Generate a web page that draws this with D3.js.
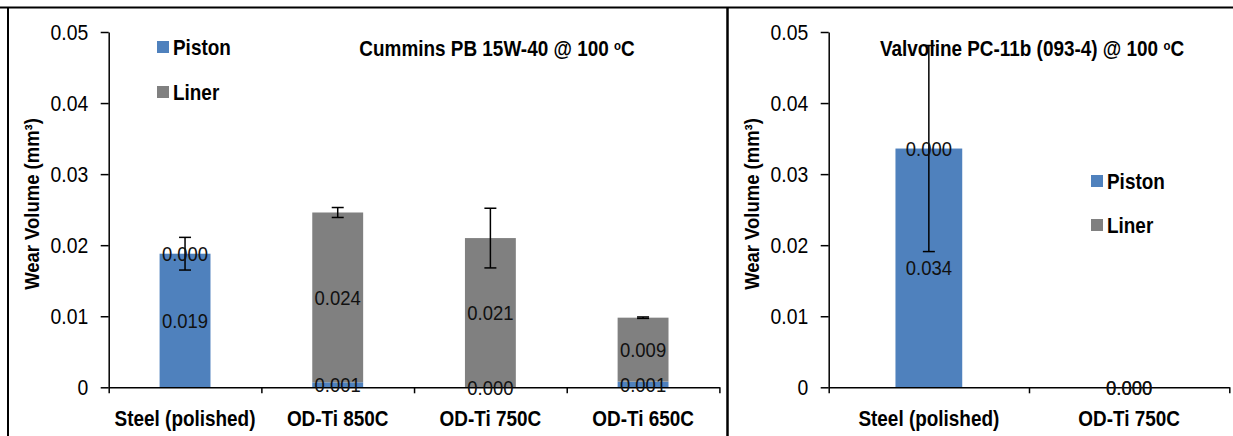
<!DOCTYPE html>
<meta charset="utf-8">
<script src="https://d3js.org/d3.v7.min.js"></script>
<style>
  body { margin: 0; background: #fff; }
  text { font-family: "Liberation Sans", Arial, sans-serif; fill: #000; }
</style>
<div id="my_dataviz"></div>
<script>
  // data
  var leftCats = ["Steel (polished)", "OD-Ti 850C", "OD-Ti 750C", "OD-Ti 650C"];
  var leftPiston = [0.0188, 0.0007, 0.0000, 0.0008];
  var leftLiner = [0.0000, 0.0239, 0.0210, 0.0090];
  var leftErr = [0.0023, 0.0007, 0.0042, 0.0001];

  var rightCats = ["Steel (polished)", "OD-Ti 750C"];
  var rightPiston = [0.0336, 0.0000];
  var rightLiner = [0.0000, 0.0000];
  var rightErr = [0.0145, 0];

  var yTicks = [0, 0.01, 0.02, 0.03, 0.04, 0.05];
  var seriesNames = ["Piston", "Liner"];
  var colors = ["#4f81bd", "#808080"];

  var W = 1233, H = 436;
  var sx = 0.88; // text looks a little squeezed sideways

  var svg = d3.select("#my_dataviz")
    .append("svg")
    .attr("width", W)
    .attr("height", H);

  // frame lines
  svg.append("line").attr("x1", 0).attr("x2", W).attr("y1", 7.5).attr("y2", 7.5)
    .attr("stroke", "#000").attr("stroke-width", 2);
  svg.append("line").attr("x1", 8).attr("x2", 8).attr("y1", 7).attr("y2", H)
    .attr("stroke", "#000").attr("stroke-width", 2);
  svg.append("line").attr("x1", 727.5).attr("x2", 727.5).attr("y1", 7).attr("y2", H)
    .attr("stroke", "#000").attr("stroke-width", 2.5);

  function squashText(g, x, y, txt) {
    return g.append("text")
      .attr("transform", "translate(" + x + "," + y + ") scale(" + sx + ",1)")
      .text(txt);
  }

  var drawPanel = function(cfg) {
    var y = d3.scaleLinear().domain([0, 0.05]).range([387.3, 32]);
    var n = cfg.cats.length;
    var x = d3.scaleBand().domain(cfg.cats).range([cfg.x0, cfg.x1])
      .paddingInner(2 / 3).paddingOuter(1 / 3);
    var xi = d3.scaleLinear().domain([0, n]).range([cfg.x0, cfg.x1]);
    var g = svg.append("g");

    // y axis
    var ya = g.append("g")
      .attr("transform", "translate(" + cfg.x0 + ",0)")
      .call(d3.axisLeft(y).tickValues(yTicks).tickSize(8).tickSizeOuter(0)
        .tickFormat(function(d) { return d === 0 ? "0" : d3.format(".2f")(d); }));
    ya.select(".domain").attr("stroke-width", 1.5);
    ya.selectAll(".tick line").attr("stroke-width", 1.5);
    ya.selectAll("text")
      .attr("x", -20.5 / sx)
      .attr("transform", "scale(" + sx + ",1)")
      .style("font-size", "22px")
      .style("font-family", "Liberation Sans, Arial, sans-serif");

    // stacked bars
    var rows = cfg.cats.map(function(c, i) {
      return { cat: c, piston: cfg.piston[i], liner: cfg.liner[i], err: cfg.err[i] };
    });
    var stack = d3.stack().keys(["piston", "liner"])(rows);
    stack.forEach(function(layer, k) {
      g.selectAll(null)
        .data(layer)
        .enter()
        .append("rect")
        .attr("x", function(d) { return x(d.data.cat); })
        .attr("y", function(d) { return y(d[1]); })
        .attr("width", x.bandwidth())
        .attr("height", function(d) { return y(d[0]) - y(d[1]); })
        .attr("fill", colors[k]);
    });

    // x axis: boundary ticks + labels
    var xa = g.append("g")
      .attr("transform", "translate(0," + y(0) + ")")
      .call(d3.axisBottom(xi).tickValues(d3.range(n + 1)).tickSize(6).tickSizeOuter(0).tickFormat(""));
    xa.select(".domain").attr("stroke-width", 1.5);
    xa.selectAll(".tick line").attr("stroke-width", 1.5);
    var xl = g.append("g")
      .attr("transform", "translate(0," + y(0) + ")")
      .call(d3.axisBottom(d3.scaleBand().domain(cfg.cats).range([cfg.x0, cfg.x1])).tickSize(0));
    xl.select(".domain").remove();
    xl.selectAll("text")
      .attr("x", 0)
      .attr("y", 23)
      .attr("transform", "scale(" + sx + ",1)")
      .style("font-size", "21.5px")
      .style("font-weight", "bold")
      .style("font-family", "Liberation Sans, Arial, sans-serif");

    // error bars at the top of each stack
    rows.forEach(function(r) {
      if (!r.err) return;
      var cx = x(r.cat) + x.bandwidth() / 2;
      var top = r.piston + r.liner;
      g.append("line").attr("x1", cx).attr("x2", cx)
        .attr("y1", y(top + r.err)).attr("y2", y(top - r.err))
        .attr("stroke", "#000").attr("stroke-width", 1.5);
      [top + r.err, top - r.err].forEach(function(v) {
        g.append("line").attr("x1", cx - 6).attr("x2", cx + 6)
          .attr("y1", y(v)).attr("y2", y(v))
          .attr("stroke", "#000").attr("stroke-width", 1.5);
      });
    });

    // data labels in the middle of each segment
    stack.forEach(function(layer) {
      layer.forEach(function(d) {
        var cx = x(d.data.cat) + x.bandwidth() / 2;
        var cy = (y(d[0]) + y(d[1])) / 2;
        squashText(g, cx, cy, (d[1] - d[0]).toFixed(3))
          .attr("dy", "0.36em")
          .attr("text-anchor", "middle")
          .style("font-size", "21px")
          .style("fill", "#111");
      });
    });

    // y axis title
    g.append("text")
      .attr("transform", "translate(" + (cfg.x0 - 76.7) + ",204) rotate(-90) scale(" + sx + ",1)")
      .attr("text-anchor", "middle")
      .attr("dy", "0.35em")
      .style("font-size", "21px")
      .style("font-weight", "bold")
      .text("Wear Volume (mm³)");

    // chart title
    var t = squashText(g, cfg.titleX, 48, cfg.title)
      .attr("text-anchor", "middle")
      .attr("dy", "0.35em")
      .style("font-size", "21.5px")
      .style("font-weight", "bold");
    t.append("tspan").attr("dy", "-6px").style("font-size", "13px").text("o");
    t.append("tspan").attr("dy", "6px").text("C");

    // legend
    seriesNames.forEach(function(s, i) {
      var ly = cfg.legendY + i * cfg.legendStep;
      g.append("rect")
        .attr("x", cfg.legendX).attr("y", ly - 6)
        .attr("width", 12).attr("height", 12)
        .attr("fill", colors[i]);
      squashText(g, cfg.legendX + 16, ly, s)
        .attr("dy", "0.35em")
        .style("font-size", "21.5px")
        .style("font-weight", "bold");
    });
  };

  drawPanel({
    x0: 108.7, x1: 719.4,
    cats: leftCats, piston: leftPiston, liner: leftLiner, err: leftErr,
    title: "Cummins PB 15W-40 @ 100 ",
    titleX: 497,
    legendX: 157, legendY: 47, legendStep: 45
  });

  drawPanel({
    x0: 828.7, x1: 1229.3,
    cats: rightCats, piston: rightPiston, liner: rightLiner, err: rightErr,
    title: "Valvoline PC-11b (093-4) @ 100 ",
    titleX: 1032,
    legendX: 1091, legendY: 181, legendStep: 44
  });
</script>
